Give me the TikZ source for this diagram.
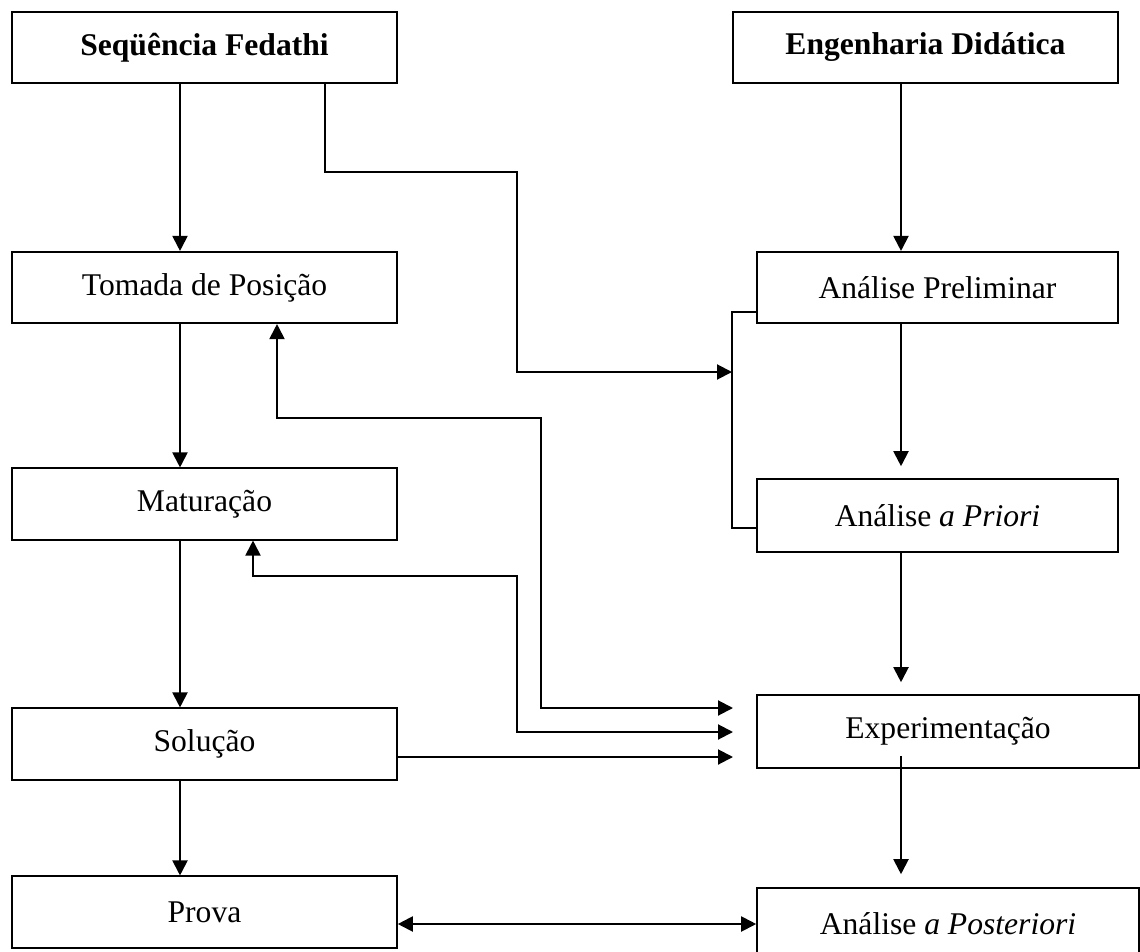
\documentclass[tikz,border=0pt]{standalone}
\usepackage{fontspec}
\setmainfont{Liberation Serif}
\usetikzlibrary{arrows.meta,positioning}
\tikzstyle{stage}=[
	rectangle,
	draw,
	line width=0.8pt,
	minimum width=192.5pt,
	minimum height=35.75pt,
	inner sep=0pt,
	font=\fontsize{15.8}{18}\selectfont
]
\tikzstyle{flow}=[
	-{Triangle[length=7.5pt,width=7.5pt]},
	line width=1pt
]
\tikzstyle{both}=[
	{Triangle[length=7.5pt,width=7.5pt]}-{Triangle[length=7.5pt,width=7.5pt]},
	line width=1pt
]
\tikzstyle{link}=[
	line width=0.9pt
]

\begin{document}
\begin{tikzpicture}[x=0.5pt,y=-0.5pt]
\clip (0,0) rectangle (1140,952);
% Sequencia Fedathi
\node [stage] (Fedathi) at (204.5,47.5) {\textbf{Seqüência Fedathi}};
\node [stage] (Tomada) at (204.5,287.5) {Tomada de Posição};
\node [stage] (Maturacao) at (204.5,504) {Maturação};
\node [stage] (Solucao) at (204.5,744) {Solução};
\node [stage] (Prova) at (204.5,912) {Prova};
% Engenharia Didatica
\node [stage] (Engenharia) at (925.5,47.5) {\textbf{Engenharia Didática}};
\node [stage, minimum width=180.5pt] (Preliminar) at (937.5,287.5) {Análise Preliminar};
\node [stage, minimum width=180.5pt, minimum height=36.5pt] (Priori) at (937.5,515.5) {Análise \textit{a Priori}};
\node [stage, minimum width=191pt, minimum height=36.5pt] (Experimentacao) at (948,731.5) {Experimentação};
\node [stage, minimum width=191pt, minimum height=36pt] (Posteriori) at (948,924) {Análise \textit{a Posteriori}};

\coordinate (lx) at (180,0);
\coordinate (rx) at (901,0);
\coordinate (tipx) at (733,0);

\draw [flow] (Fedathi.south -| lx) -- (Tomada.north -| lx);
\draw [flow] (Tomada.south -| lx) -- (Maturacao.north -| lx);
\draw [flow] (Maturacao.south -| lx) -- (Solucao.north -| lx);
\draw [flow] (Solucao.south -| lx) -- (Prova.north -| lx);

\draw [flow] (Engenharia.south -| rx) -- (Preliminar.north -| rx);
\draw [flow, shorten >=6pt] (Preliminar.south -| rx) -- (Priori.north -| rx);
\draw [flow, shorten >=6pt] (Priori.south -| rx) -- (Experimentacao.north -| rx);
\draw [flow, shorten <=-6.5pt, shorten >=6.5pt] (Experimentacao.south -| rx) -- (Posteriori.north -| rx);

% Fedathi -> analises
\coordinate (a1) at (325,172);
\coordinate (a2) at (517,372);
\coordinate (brTop) at (732,312);
\coordinate (brBot) at (732,528);
\draw [flow] (Fedathi.south -| a1) -- (a1) -| (a2) -- (a2 -| brTop);
\draw [link] (Preliminar.west |- brTop) -- (brTop) -- (brBot) -- (Priori.west |- brBot);

% retornos para experimentacao
\coordinate (b1) at (277,418);
\coordinate (b2) at (541,708);
\draw [both] (Tomada.south -| b1) -- (b1) -| (b2) -- (b2 -| tipx);
\coordinate (c1) at (253,576);
\coordinate (c2) at (517,732);
\draw [both] (Maturacao.south -| c1) -- (c1) -| (c2) -- (c2 -| tipx);
\coordinate (d1) at (733,757);
\draw [flow] (Solucao.east |- d1) -- (d1);

\draw [both] (Prova.east |- Posteriori.west) -- (Posteriori.west);
\end{tikzpicture}
\end{document}
